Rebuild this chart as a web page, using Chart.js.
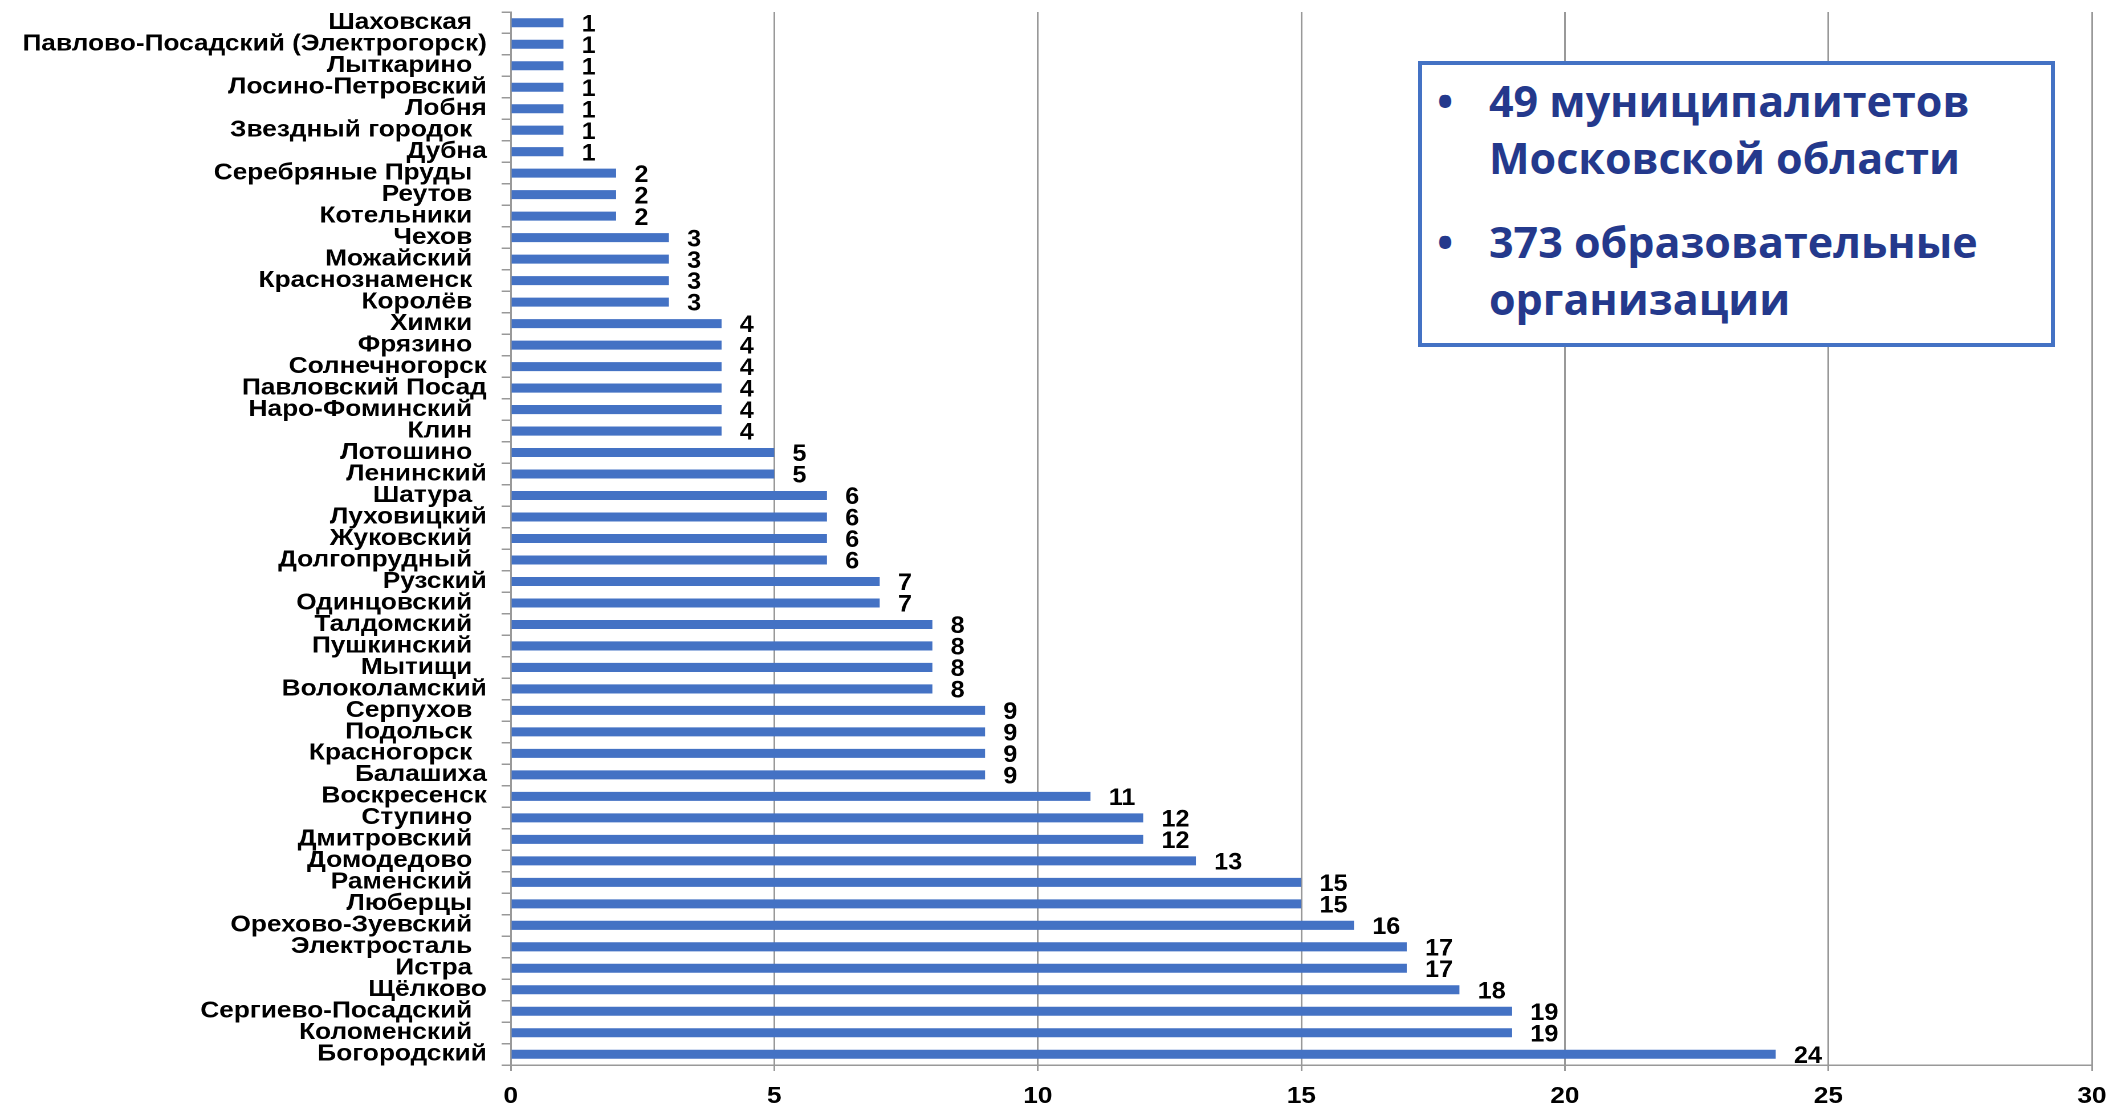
<!DOCTYPE html>
<html>
<head>
<meta charset="utf-8">
<script src="https://cdn.jsdelivr.net/npm/chart.js@4.4.1/dist/chart.umd.min.js"></script>
<style>
  body { margin: 0; background: #fff; overflow: hidden; width: 2109px; height: 1107px; position: relative; }
  #wrap {
    position: absolute; left: 0; top: 0;
    width: 1850px; height: 1107px;
    transform: scaleX(1.14); transform-origin: 0 0;
  }
  #c { position: absolute; left: 0; top: 0; }
  #box {
    position: absolute; left: 1418px; top: 61px;
    width: 637px; height: 286px; box-sizing: border-box;
    border: 4px solid #4472C4; background: #fff;
  }
  .item {
    position: absolute; left: 1489px; width: 560px;
    font-family: "Open Sans", sans-serif; font-weight: bold;
    font-size: 43px; line-height: 57px; color: #24398C;
  }
  .item .dot { position: absolute; left: -52px; top: 0; }
</style>
</head>
<body>
<div id="wrap">
  <canvas id="c" width="1850" height="1107"></canvas>
</div>
<div id="box"></div>
<div class="item" style="top:72px"><span class="dot">•</span>49 муниципалитетов Московской области</div>
<div class="item" style="top:213px"><span class="dot">•</span>373 образовательные организации</div>
<script>
// dados
const municipios = [
  'Шаховская ', 'Павлово-Посадский (Электрогорск)', 'Лыткарино ', 'Лосино-Петровский',
  'Лобня', 'Звездный городок ', 'Дубна', 'Серебряные Пруды ', 'Реутов ', 'Котельники ',
  'Чехов ', 'Можайский ', 'Краснознаменск ', 'Королёв ', 'Химки ', 'Фрязино ',
  'Солнечногорск', 'Павловский Посад', 'Наро-Фоминский ', 'Клин ', 'Лотошино ',
  'Ленинский', 'Шатура ', 'Луховицкий', 'Жуковский ', 'Долгопрудный ', 'Рузский',
  'Одинцовский ', 'Талдомский ', 'Пушкинский ', 'Мытищи ', 'Волоколамский',
  'Серпухов ', 'Подольск ', 'Красногорск ', 'Балашиха', 'Воскресенск', 'Ступино ',
  'Дмитровский ', 'Домодедово ', 'Раменский ', 'Люберцы ', 'Орехово-Зуевский ',
  'Электросталь ', 'Истра ', 'Щёлково', 'Сергиево-Посадский ', 'Коломенский ', 'Богородский'
];
const organizacoes = [
  1, 1, 1, 1, 1, 1, 1, 2, 2, 2,
  3, 3, 3, 3, 4, 4, 4, 4, 4, 4,
  5, 5, 6, 6, 6, 6, 7, 7, 8, 8,
  8, 8, 9, 9, 9, 9, 11, 12, 12, 13,
  15, 15, 16, 17, 17, 18, 19, 19, 24
];
const ticksX = [0, 5, 10, 15, 20, 25, 30];

const cinza = '#999999';
const fonte = 'Liberation Sans, Arial, sans-serif';

// rotulos de valor (um pouco estreitos, como no original)
const rotulosValor = {
  id: 'rotulosValor',
  afterDatasetsDraw(chart) {
    const ctx = chart.ctx;
    const meta = chart.getDatasetMeta(0);
    ctx.save();
    ctx.font = 'bold 24px ' + fonte;
    ctx.fillStyle = '#000';
    ctx.textAlign = 'left';
    ctx.textBaseline = 'middle';
    meta.data.forEach((bar, i) => {
      ctx.save();
      ctx.translate(bar.x + 16, bar.y + 2);
      ctx.scale(0.92, 1);
      ctx.fillText(organizacoes[i], 0, 0);
      ctx.restore();
    });
    ctx.restore();
  }
};

const ctx = document.getElementById('c').getContext('2d');
new Chart(ctx, {
  type: 'bar',
  data: {
    labels: municipios,
    datasets: [{
      data: organizacoes,
      backgroundColor: '#4472C4',
      borderWidth: 0,
      categoryPercentage: 1,
      barPercentage: 0.42
    }]
  },
  options: {
    indexAxis: 'y',
    responsive: false,
    animation: false,
    devicePixelRatio: 2,
    layout: { padding: { top: 12, right: 15, bottom: 0, left: 0 } },
    plugins: {
      legend: { display: false },
      tooltip: { enabled: false }
    },
    scales: {
      x: {
        min: 0,
        max: 30,
        afterBuildTicks: s => { s.ticks = ticksX.map(v => ({ value: v })); },
        afterFit: s => { s.height = 42; s.paddingLeft = 0; s.paddingRight = 0; },
        grid: { color: cinza, lineWidth: 1.5, tickLength: 6 },
        border: { color: cinza, width: 1.5 },
        ticks: {
          padding: 12,
          color: '#000',
          font: { family: fonte, size: 23, weight: 'bold' }
        }
      },
      y: {
        afterFit: s => { s.width = 448; s.paddingTop = 0; s.paddingBottom = 0; },
        grid: { drawOnChartArea: false, color: cinza, lineWidth: 1.5, tickLength: 8 },
        border: { color: cinza, width: 1.5 },
        ticks: {
          autoSkip: false,
          padding: 13,
          color: '#000',
          font: { family: fonte, size: 23, weight: 'bold' },
          callback: function (v) {
            const t = this.getLabelForValue(v);
            return t.endsWith(' ') ? t + ' ' : t;
          }
        }
      }
    }
  },
  plugins: [rotulosValor]
});
</script>
</body>
</html>
